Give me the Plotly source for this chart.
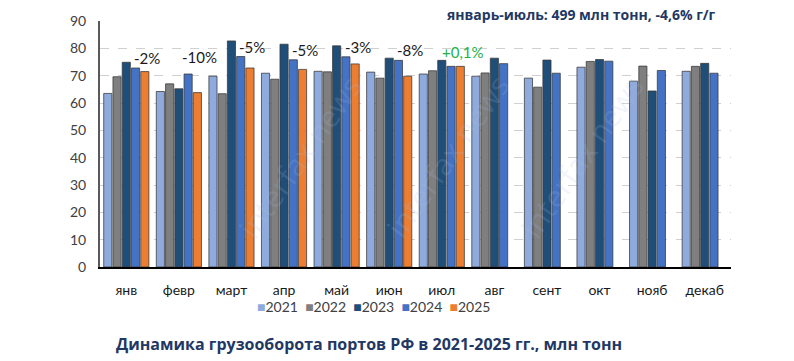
import plotly.graph_objects as go

months = ["янв", "февр", "март", "апр", "май", "июн", "июл", "авг", "сент", "окт", "нояб", "декаб"]
years = ["2021", "2022", "2023", "2024", "2025"]
v2021 = [63.5, 64.2, 69.8, 70.9, 71.6, 71.3, 70.6, 69.8, 69.1, 73.1, 68.0, 71.6]
v2022 = [69.6, 67.0, 63.4, 68.7, 71.4, 69.1, 71.8, 71.0, 65.8, 75.2, 73.5, 73.4]
v2023 = [74.9, 65.2, 82.7, 81.5, 80.9, 76.4, 75.6, 76.4, 75.7, 75.9, 64.4, 74.5]
v2024 = [72.8, 70.6, 77.0, 75.8, 76.9, 75.6, 73.4, 74.4, 70.9, 75.3, 71.9, 70.9]
v2025 = [71.5, 63.8, 72.8, 72.3, 74.3, 69.8, 73.4]
change_labels = ["-2%", "-10%", "-5%", "-5%", "-3%", "-8%", "+0,1%"]
summary_text = "январь-июль: 499 млн тонн, -4,6% г/г"
title_text = "Динамика грузооборота портов РФ в 2021-2025 гг., млн тонн"

colors = ["#8FAADC", "#7F7F7F", "#1F4E79", "#4472C4", "#ED7D31"]
series = [v2021, v2022, v2023, v2024, v2025]

fig = go.Figure()
for y, vals, c in zip(years, series, colors):
    fig.add_trace(go.Bar(
        name=y, x=months[:len(vals)], y=vals,
        marker=dict(color=c, line=dict(color="rgba(55,55,55,0.75)", width=1)),
        showlegend=False,
    ))

label_font = "Lato, 'Open Sans', sans-serif"
annotations = []
label_shift = [0, 7, 0, 0, 0, 0, 4]
for i, lab in enumerate(change_labels):
    top = max(v2024[i], v2025[i])
    annotations.append(dict(
        x=months[i], y=top, xref="x", yref="y", text=lab, showarrow=False,
        xanchor="center", yanchor="bottom", xshift=21, yshift=label_shift[i] - 1,
        font=dict(family=label_font, size=15,
                  color="#22B04A" if lab.startswith("+") else "#1a1a1a"),
    ))

# legend built as text
leg = "&nbsp;&nbsp;".join(
    f'<span style="color:{c}">■</span>{y}' for y, c in zip(years, colors)
)
annotations.append(dict(
    x=0.433, y=-0.16, xref="paper", yref="paper", text=leg, showarrow=False,
    xanchor="center", yanchor="middle",
    font=dict(family=label_font, size=14, color="#404040"),
))
annotations.append(dict(
    x=0.979, y=1.028, xref="paper", yref="paper", text=f"<b>{summary_text}</b>",
    showarrow=False, xanchor="right", yanchor="middle",
    font=dict(family="'Open Sans', sans-serif", size=14, color="#1F3864"),
))
annotations.append(dict(
    x=0.022, y=-0.312, xref="paper", yref="paper", text=f"<b>{title_text}</b>",
    showarrow=False, xanchor="left", yanchor="middle",
    font=dict(family="'Open Sans', sans-serif", size=16, color="#1F3864"),
))
# faint watermark
for wx in [0.2, 0.55, 0.88]:
    annotations.append(dict(
        x=wx, y=0.45, xref="paper", yref="paper", text="interfax news",
        showarrow=False, textangle=-55,
        font=dict(family="'Open Sans', sans-serif", size=30, color="rgba(170,195,230,0.18)"),
    ))

fig.update_layout(
    width=794, height=361,
    margin=dict(l=100, r=63, t=17, b=94),
    paper_bgcolor="white", plot_bgcolor="white",
    barmode="group", bargap=0.12, bargroupgap=0.12,
    annotations=annotations,
    font=dict(family=label_font, color="#404040"),
)
fig.update_yaxes(
    range=[0, 90], tickvals=list(range(0, 91, 10)),
    showgrid=True, gridcolor="#D0D0D0", griddash="dash", gridwidth=1,
    showline=True, linecolor="#595959", linewidth=2,
    zeroline=False, ticks="", ticklabelstandoff=9,
    tickfont=dict(size=14, color="#404040"),
)
fig.update_xaxes(
    showline=True, linecolor="#000000", linewidth=1.5,
    ticks="", ticklabelstandoff=9,
    tickfont=dict(size=14, color="#1a1a1a"),
)

fig.write_html("out.html", config={"displayModeBar": False},
               post_script="document.body.style.margin='0';document.body.style.overflow='hidden';")
